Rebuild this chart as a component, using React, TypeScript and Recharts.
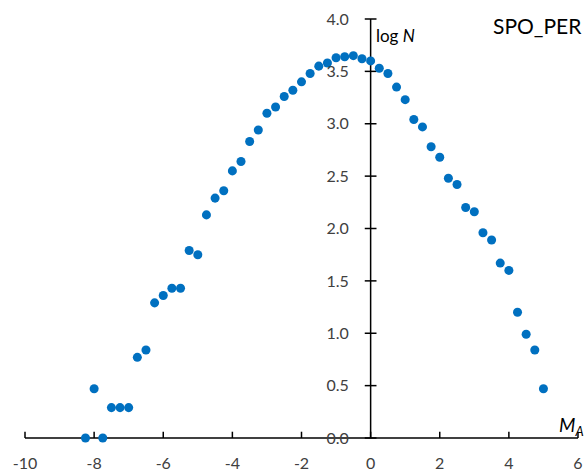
import React from "react";
import {
  ScatterChart,
  Scatter,
  XAxis,
  YAxis,
  ReferenceLine,
  Customized,
} from "recharts";

// absolute magnitude bins (M_A) and log N counts
const magnitudes = [
  -8.25, -8, -7.75, -7.5, -7.25, -7, -6.75, -6.5, -6.25, -6, -5.75, -5.5,
  -5.25, -5, -4.75, -4.5, -4.25, -4, -3.75, -3.5, -3.25, -3, -2.75, -2.5,
  -2.25, -2, -1.75, -1.5, -1.25, -1, -0.75, -0.5, -0.25, 0, 0.25, 0.5, 0.75,
  1, 1.25, 1.5, 1.75, 2, 2.25, 2.5, 2.75, 3, 3.25, 3.5, 3.75, 4, 4.25, 4.5,
  4.75, 5,
];
const logN = [
  0, 0.47, 0, 0.29, 0.29, 0.29, 0.77, 0.84, 1.29, 1.36, 1.43, 1.43, 1.79,
  1.75, 2.13, 2.29, 2.36, 2.55, 2.64, 2.83, 2.94, 3.1, 3.16, 3.26, 3.32, 3.4,
  3.48, 3.55, 3.58, 3.63, 3.64, 3.65, 3.62, 3.6, 3.53, 3.48, 3.35, 3.23, 3.04,
  2.97, 2.78, 2.68, 2.48, 2.42, 2.2, 2.16, 1.96, 1.89, 1.67, 1.6, 1.2, 0.99,
  0.84, 0.47,
];
const xTicks = [-10, -8, -6, -4, -2, 0, 2, 4, 6];
const yTicks = [0, 0.5, 1, 1.5, 2, 2.5, 3, 3.5, 4];
const yTickLabels = ["0.0", "0.5", "1.0", "1.5", "2.0", "2.5", "3.0", "3.5", "4.0"];

const data = magnitudes.map((m, i) => ({ m, n: logN[i] }));

const FONT = "Lato, 'Open Sans', sans-serif";
const TEXT = "#404040";

const Titles = () => (
  <g fontFamily={FONT}>
    <text x={376} y={42} fontSize={17} fill="#000">
      log <tspan fontStyle="italic">N</tspan>
    </text>
    <text x={493} y={34} fontSize={21} fill="#000">
      SPO_PER
    </text>
    <text x={559} y={432} fontSize={19} fill="#000" fontStyle="italic">
      M<tspan fontSize={13} dy={4}>A</tspan>
    </text>
  </g>
);

export default function App() {
  return (
    <div
      style={{
        position: "absolute",
        left: 0,
        top: 0,
        width: 587,
        height: 472,
        overflow: "hidden",
        background: "#fff",
      }}
    >
      <ScatterChart
        width={587}
        height={472}
        margin={{ top: 19, right: 9, bottom: 0, left: 25 }}
      >
        <XAxis
          type="number"
          dataKey="m"
          domain={[-10, 6]}
          ticks={xTicks}
          interval={0}
          height={34}
          tickLine={false}
          tickMargin={14}
          axisLine={{ stroke: "#000", strokeWidth: 1.5 }}
          tick={{ fontSize: 16, fill: TEXT, fontFamily: FONT }}
          allowDataOverflow
        />
        <YAxis type="number" dataKey="n" domain={[0, 4]} ticks={yTicks} hide />
        {/* vertical axis drawn at M_A = 0 */}
        <ReferenceLine x={0} stroke="#000" strokeWidth={1.5} />
        {xTicks.map((t) => (
          <ReferenceLine
            key={"xt" + t}
            segment={[
              { x: t, y: 0 },
              { x: t, y: 0.06 },
            ]}
            stroke="#000"
            strokeWidth={1.5}
          />
        ))}
        {yTicks.map((t, i) => (
          <ReferenceLine
            key={"yt" + t}
            segment={[
              { x: -0.17, y: t },
              { x: 0.17, y: t },
            ]}
            stroke="#000"
            strokeWidth={1.5}
            label={{
              value: yTickLabels[i],
              position: "left",
              offset: 16,
              fontSize: 16,
              fill: TEXT,
              fontFamily: FONT,
            }}
          />
        ))}
        <Scatter
          data={data}
          fill="#0070C0"
          shape="circle"
          isAnimationActive={false}
          legendType="none"
        />
        <Customized component={Titles} />
      </ScatterChart>
    </div>
  );
}
